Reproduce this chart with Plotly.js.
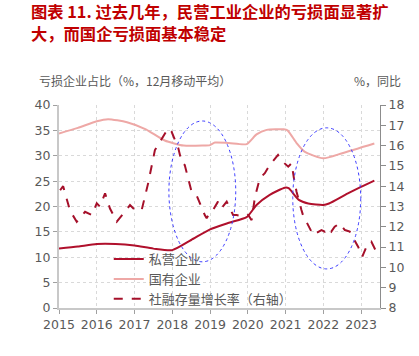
<!DOCTYPE html>
<html>
<head>
<meta charset="utf-8">
<script src="https://cdn.plot.ly/plotly-3.0.1.min.js"></script>
<style>html,body{margin:0;padding:0;background:#fff;}#chart{width:419px;height:356px;}</style>
</head>
<body>
<div id="chart"></div>
<script>
// Private enterprises loss share (%, 12M moving avg) - left axis
var privX = [2015.0, 2015.5, 2016.0, 2016.5, 2017.0, 2017.5, 2018.0, 2018.5, 2019.0, 2019.5, 2019.97, 2020.23, 2020.58, 2020.98, 2021.08, 2021.35, 2021.6, 2022.0, 2022.15, 2022.65, 2023.35];
var privY = [11.7, 12.1, 12.6, 12.6, 12.3, 11.7, 11.4, 13.4, 15.5, 16.8, 17.9, 20.3, 22.3, 23.7, 23.6, 21.3, 20.6, 20.3, 20.6, 22.6, 25.1];

// State-owned enterprises loss share - left axis
var stateX = [2015.0, 2015.5, 2016.0, 2016.3, 2016.8, 2017.3, 2017.8, 2018.3, 2018.8, 2019.0, 2019.13, 2019.5, 2019.97, 2020.23, 2020.5, 2020.95, 2021.05, 2021.3, 2021.5, 2022.0, 2022.5, 2023.35];
var stateY = [34.4, 35.5, 36.8, 37.2, 36.6, 35.2, 33.0, 32.0, 32.0, 32.1, 32.6, 32.5, 32.3, 34.2, 35.1, 35.2, 35.0, 32.4, 30.8, 29.5, 30.5, 32.4];

// Social financing stock growth (%, yoy) - right axis
var tsfX = [2015.03, 2015.11, 2015.25, 2015.29, 2015.47, 2015.69, 2015.87, 2016.0, 2016.08, 2016.22, 2016.35, 2016.53, 2016.88, 2017.01, 2017.19, 2017.36, 2017.54, 2017.72, 2017.89, 2017.98, 2018.16, 2018.25, 2018.33, 2018.51, 2018.64, 2018.86, 2018.91, 2019.0, 2019.08, 2019.21, 2019.3, 2019.44, 2019.57, 2019.61, 2019.7, 2019.92, 2020.01, 2020.1, 2020.19, 2020.32, 2020.45, 2020.58, 2020.8, 2020.93, 2021.07, 2021.16, 2021.22, 2021.29, 2021.42, 2021.46, 2021.73, 2021.95, 2022.04, 2022.12, 2022.21, 2022.3, 2022.43, 2022.57, 2022.7, 2022.79, 2022.92, 2023.03, 2023.18, 2023.27, 2023.4];
var tsfY = [13.8, 14.0, 13.07, 12.8, 12.25, 12.74, 12.58, 13.16, 13.0, 13.65, 12.9, 12.25, 13.07, 12.83, 12.83, 14.14, 15.78, 16.36, 16.85, 16.69, 15.87, 15.17, 15.04, 13.73, 13.57, 12.58, 12.42, 12.74, 12.83, 13.24, 12.91, 13.24, 12.74, 12.58, 12.58, 12.5, 12.58, 12.33, 13.48, 14.4, 14.64, 15.04, 15.54, 15.2, 14.96, 15.13, 14.4, 13.73, 12.83, 12.58, 11.6, 11.84, 11.76, 11.93, 11.76, 12.0, 12.17, 11.84, 11.76, 11.43, 11.02, 10.53, 11.19, 11.27, 10.78];

var names = ['私营企业', '国有企业', '社融存量增长率（右轴）'];
var yearTicks = [2015, 2016, 2017, 2018, 2019, 2020, 2021, 2022, 2023];
var titleLines = ['图表 11. 过去几年，民营工业企业的亏损面显著扩', '大，而国企亏损面基本稳定'];

var FONT = 'Noto Sans CJK SC, Liberation Sans, sans-serif';
var GRAY = '#595959';

var traces = [
  {x: stateX, y: stateY, name: names[1], legendrank: 2, type: 'scatter', mode: 'lines',
   line: {color: '#EEA8A6', width: 2, shape: 'spline', smoothing: 0.6}, yaxis: 'y'},
  {x: privX, y: privY, name: names[0], legendrank: 1, type: 'scatter', mode: 'lines',
   line: {color: '#B0102C', width: 2, shape: 'spline', smoothing: 0.6}, yaxis: 'y'},
  {x: tsfX, y: tsfY, name: names[2], legendrank: 3, type: 'scatter', mode: 'lines',
   line: {color: '#A5102A', width: 2, dash: 'dash'}, yaxis: 'y2'}
];

var layout = {
  width: 419, height: 356,
  margin: {l: 59, r: 39, t: 105, b: 48},
  paper_bgcolor: '#ffffff', plot_bgcolor: '#ffffff',
  font: {family: FONT, size: 12, color: GRAY},
  showlegend: true,
  legend: {x: 0.155, y: 0.315, xanchor: 'left', yanchor: 'top', bgcolor: 'rgba(0,0,0,0)',
           font: {size: 13, color: GRAY}, traceorder: 'normal', tracegroupgap: 0, itemwidth: 30},
  xaxis: {range: [2015, 2023.5], tickvals: yearTicks, ticktext: yearTicks.map(String),
          showgrid: true, gridcolor: '#d9d9d9', griddash: 'dot', gridwidth: 1,
          showline: true, linecolor: '#c8c8c8', linewidth: 2,
          ticks: 'outside', ticklen: 4, tickcolor: '#a0a0a0', zeroline: false,
          tickfont: {size: 12.5, color: GRAY, family: 'DejaVu Sans, sans-serif'}},
  yaxis: {range: [0, 40], dtick: 5, showgrid: true, gridcolor: '#d9d9d9', griddash: 'dot',
          showline: true, linecolor: '#c8c8c8', linewidth: 2, zeroline: false,
          ticks: 'outside', ticklen: 4, tickcolor: '#a0a0a0',
          tickfont: {size: 12.5, color: GRAY, family: 'DejaVu Sans, sans-serif'}},
  yaxis2: {range: [8, 18], dtick: 1, overlaying: 'y', side: 'right', showgrid: false,
           showline: true, linecolor: '#8c8c8c', linewidth: 1, zeroline: false,
           ticks: 'outside', ticklen: 5, tickcolor: '#8c8c8c',
           tickfont: {size: 12.5, color: GRAY, family: 'DejaVu Sans, sans-serif'}},
  shapes: [
    {type: 'circle', xref: 'x', yref: 'y', x0: 2017.91, x1: 2019.68, y0: 9.1, y1: 36.85,
     line: {color: '#3a3aff', width: 1, dash: 'dot'}},
    {type: 'circle', xref: 'x', yref: 'y', x0: 2021.19, x1: 2022.99, y0: 7.7, y1: 35.5,
     line: {color: '#3a3aff', width: 1, dash: 'dot'}}
  ],
  annotations: [
    {text: '<b>' + titleLines[0] + '</b>', xref: 'paper', yref: 'paper', align: 'left',
     x: -29/321, y: (308-11)/203, xanchor: 'left', yanchor: 'middle', showarrow: false, borderpad: 0,
     font: {family: 'Noto Sans CJK SC, sans-serif', size: 16.3, color: '#C00000'}},
    {text: '<b>' + titleLines[1] + '</b>', xref: 'paper', yref: 'paper', align: 'left',
     x: -29/321, y: (308-33)/203, xanchor: 'left', yanchor: 'middle', showarrow: false, borderpad: 0,
     font: {family: 'Noto Sans CJK SC, sans-serif', size: 16.3, color: '#C00000'}},
    {text: '亏损企业占比（%，12月移动平均）', xref: 'paper', yref: 'paper',
     x: -22/321, y: (308-80)/203, xanchor: 'left', yanchor: 'middle', showarrow: false,
     font: {size: 12, color: GRAY}},
    {text: '%，同比', xref: 'paper', yref: 'paper',
     x: (403-59)/321, y: (308-80)/203, xanchor: 'right', yanchor: 'middle', showarrow: false,
     font: {size: 12, color: GRAY}}
  ]
};

Plotly.newPlot('chart', traces, layout, {displayModeBar: false, staticPlot: true});
</script>
</body>
</html>
